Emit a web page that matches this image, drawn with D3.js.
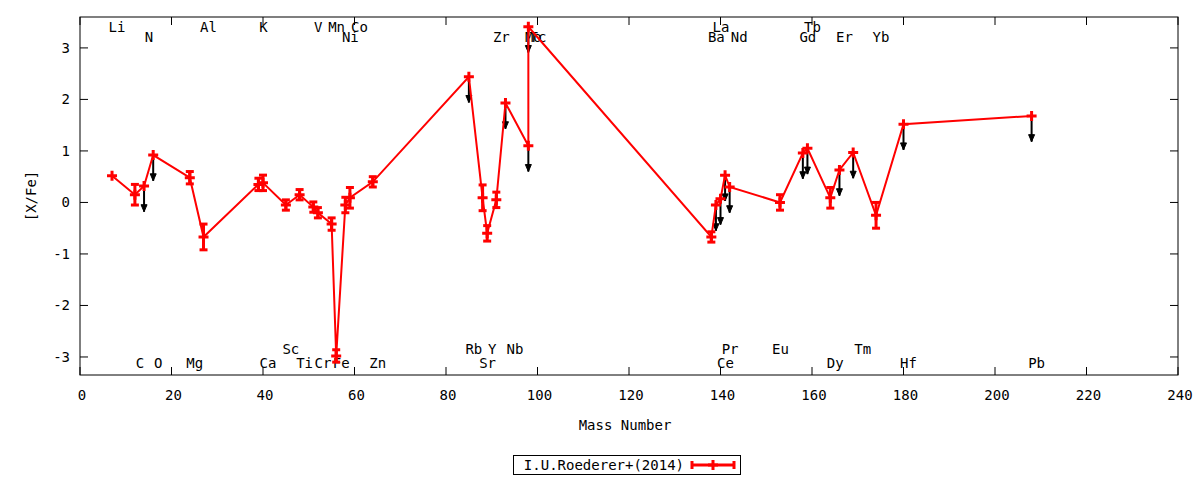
<!DOCTYPE html>
<html><head><meta charset="utf-8">
<script src="https://cdn.jsdelivr.net/npm/d3@7"></script>
<style>body{margin:0;background:#fff}text{font-family:"DejaVu Sans Mono",monospace;font-size:14px}</style>
</head><body><svg id="svg" width="1200" height="480"></svg>
<script>
// element, mass number, [X/Fe], error, upper limit
var elements = ["Li","C","N","O","Mg","Al","K","Ca","Sc","Ti","V","Cr","Mn","Fe","Ni","Co","Zn","Rb","Sr","Y","Zr","Nb","Mo","Tc","Ba","La","Ce","Pr","Nd","Eu","Gd","Tb","Dy","Er","Tm","Yb","Hf","Pb"]
var masses = [7,12,14,16,24,27,39,40,45,48,51,52,55,56,58,59,64,85,88,89,91,93,98,98,138,139,140,141,142,153,158,159,164,166,169,174,180,208]
var values = [0.52,0.15,0.32,0.92,0.48,-0.67,0.35,0.38,-0.05,0.15,-0.09,-0.2,-0.42,-2.98,-0.05,0.09,0.4,2.44,0.09,-0.6,0.05,1.93,1.1,3.41,-0.67,-0.05,0.07,0.53,0.3,0.0,0.96,1.05,0.09,0.63,0.97,-0.25,1.52,1.68]
var errors = [0,0.2,0,0,0.12,0.25,0.12,0.15,0.1,0.1,0.1,0.1,0.12,0.12,0.15,0.2,0.1,0,0.25,0.15,0.15,0,0,0,0.1,0,0,0,0,0.15,0,0,0.2,0,0,0.25,0,0]
var upper = [0,0,1,1,0,0,0,0,0,0,0,0,0,0,0,0,0,1,0,0,0,1,1,1,0,1,1,1,1,0,1,1,0,1,1,0,1,1]
// label position: mass, row (0 top-upper,1 top-lower,2 bottom-upper,3 bottom-lower)
var labelMass = [7,12,14,16,24,27,39,40,45,48,51,52,55,56,58,60,64,85,88,89,91,94,98,99,138,139,140,141,143,152,158,159,164,166,170,174,180,208]
var labelRow = [0,3,1,3,3,0,0,3,2,3,0,3,0,3,1,0,3,2,3,2,1,2,1,1,1,0,3,2,1,2,1,0,3,1,2,1,3,3]
var xTicks = d3.range(0,241,20)
var yTicks = [-3,-2,-1,0,1,2,3]

var svg = d3.select("#svg")
var margin = {top:17,right:22,bottom:105,left:80}
var width = 1200-margin.left-margin.right, height = 480-margin.top-margin.bottom
var x = d3.scaleLinear().domain([0,240]).range([0,width])
var y = d3.scaleLinear().domain([-3.35,3.6]).range([height,0])
var g = svg.append("g").attr("transform","translate("+margin.left+","+margin.top+")")

g.append("rect").attr("width",width).attr("height",height).attr("fill","none").attr("stroke","#000")
xTicks.forEach(t=>{
  g.append("line").attr("x1",x(t)).attr("x2",x(t)).attr("y1",height).attr("y2",height-8).attr("stroke","#000")
  g.append("line").attr("x1",x(t)).attr("x2",x(t)).attr("y1",0).attr("y2",8).attr("stroke","#000")
  g.append("text").attr("x",x(t)+2).attr("y",height+25).attr("text-anchor","middle").text(t)
})
yTicks.forEach(t=>{
  g.append("line").attr("x1",0).attr("x2",8).attr("y1",y(t)).attr("y2",y(t)).attr("stroke","#000")
  g.append("line").attr("x1",width).attr("x2",width-8).attr("y1",y(t)).attr("y2",y(t)).attr("stroke","#000")
  g.append("text").attr("x",-10).attr("y",y(t)+5).attr("text-anchor","end").text(t)
})
svg.append("text").attr("x",625).attr("y",430).attr("text-anchor","middle").text("Mass Number")
svg.append("text").attr("transform","translate(36,196)rotate(-90)").attr("text-anchor","middle").text("[X/Fe]")

var rowY = [15,25,337,351]
elements.forEach((e,i)=>{
  g.append("text").attr("x",x(labelMass[i])+5).attr("y",rowY[labelRow[i]]).attr("text-anchor","middle").text(e)
})

var data = elements.map((e,i)=>({m:masses[i],v:values[i],err:errors[i],ul:upper[i]}))
// upper-limit arrows
data.filter(d=>d.ul).forEach(d=>{
  var y0 = y(d.v), y1 = y(d.v-0.5)
  g.append("line").attr("x1",x(d.m)).attr("x2",x(d.m)).attr("y1",y0).attr("y2",y1).attr("stroke","#000").attr("stroke-width",2)
  g.append("path").attr("d","M"+(x(d.m)-3)+","+(y1-7)+"L"+(x(d.m)+3)+","+(y1-7)+"L"+x(d.m)+","+y1+"Z").attr("fill","#000").attr("stroke","#000")
})
g.append("path").datum(data).attr("fill","none").attr("stroke","#f00").attr("stroke-width",2)
  .attr("d",d3.line().x(d=>x(d.m)).y(d=>y(d.v)))
data.forEach(d=>{
  var cx = x(d.m), cy = y(d.v)
  if (d.err>0) {
    g.append("line").attr("x1",cx).attr("x2",cx).attr("y1",y(d.v-d.err)).attr("y2",y(d.v+d.err)).attr("stroke","#f00").attr("stroke-width",3)
    ;[d.v-d.err,d.v+d.err].forEach(v=>g.append("line").attr("x1",cx-4).attr("x2",cx+4).attr("y1",y(v)).attr("y2",y(v)).attr("stroke","#f00").attr("stroke-width",3))
  }
  g.append("path").attr("d","M"+(cx-5)+","+cy+"h10M"+cx+","+(cy-5)+"v10").attr("stroke","#f00").attr("stroke-width",3)
})

// legend
var lg = svg.append("g")
lg.append("rect").attr("x",513.5).attr("y",455.5).attr("width",227).attr("height",19).attr("fill","#fff").attr("stroke","#000")
lg.append("text").attr("x",684).attr("y",470).attr("text-anchor","end").text("I.U.Roederer+(2014)")
lg.append("line").attr("x1",692).attr("x2",734).attr("y1",465).attr("y2",465).attr("stroke","#f00").attr("stroke-width",3)
;[692,734].forEach(xx=>lg.append("line").attr("x1",xx).attr("x2",xx).attr("y1",461).attr("y2",469).attr("stroke","#f00").attr("stroke-width",3))
lg.append("path").attr("d","M708,465h10M713,460v10").attr("stroke","#f00").attr("stroke-width",3)
</script></body></html>
